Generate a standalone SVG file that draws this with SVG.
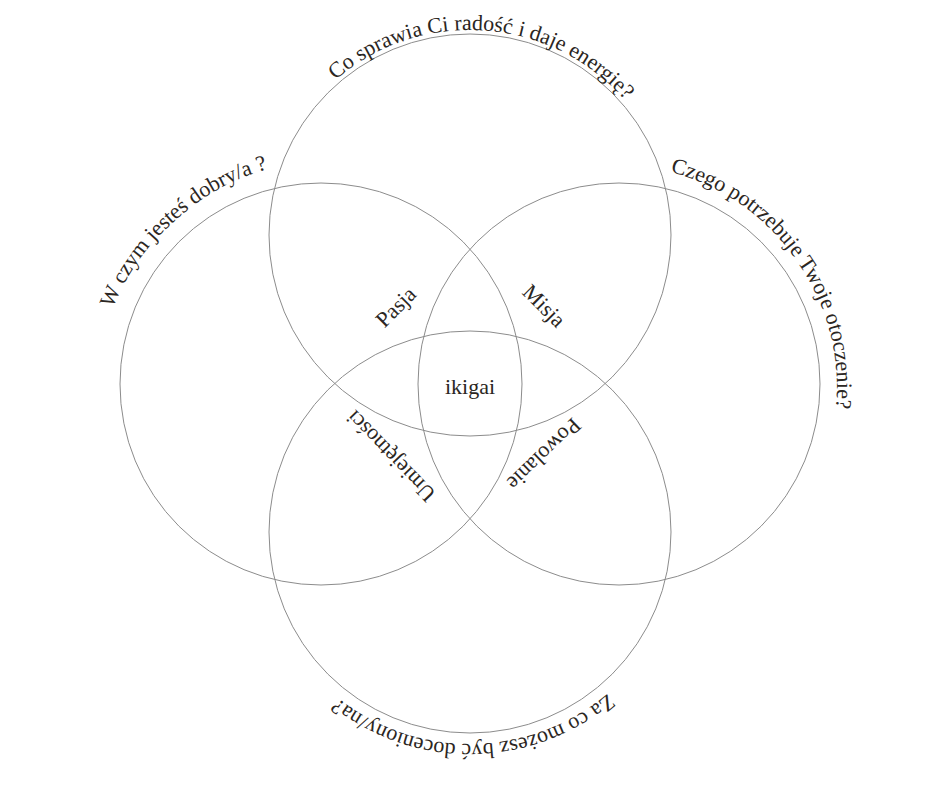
<svg xmlns="http://www.w3.org/2000/svg" xmlns:xlink="http://www.w3.org/1999/xlink" width="940" height="788" viewBox="0 0 940 788">
  <style>
    .ring { fill: none; stroke: #8c8c8c; stroke-width: 1; }
    .t { font-family: "Liberation Serif", "Times New Roman", serif; font-size: 22px; fill: #2b2622; }
  </style>
  <defs>
    <path id="pTop" d="M 455.7 439.5 A 205 205 0 1 1 484.3 30.5 A 205 205 0 1 1 455.7 439.5"/>
    <path id="pLeft" d="M 467.5 546.7 A 219 219 0 1 1 174.5 221.3 A 219 219 0 1 1 467.5 546.7"/>
    <path id="pRight" d="M 442.1 507.9 A 216 216 0 1 1 795.9 260.1 A 216 216 0 1 1 442.1 507.9"/>
    <path id="pBottom" d="M 466.3 320 A 212 212 0 1 1 473.7 744 A 212 212 0 1 1 466.3 320"/>
  </defs>
  <rect width="940" height="788" fill="#ffffff"/>
  <g id="circle-top">
    <circle class="ring" cx="470" cy="235" r="201"/>
    <text class="t"><textPath xlink:href="#pTop" href="#pTop" startOffset="50%" text-anchor="middle">Co sprawia Ci radość i daje energię?</textPath></text>
  </g>
  <g id="circle-left">
    <circle class="ring" cx="321" cy="384" r="201"/>
    <text class="t"><textPath xlink:href="#pLeft" href="#pLeft" startOffset="50%" text-anchor="middle">W czym jesteś dobry/a ?</textPath></text>
  </g>
  <g id="circle-right">
    <circle class="ring" cx="619" cy="384" r="201"/>
    <text class="t"><textPath xlink:href="#pRight" href="#pRight" startOffset="50%" text-anchor="middle">Czego potrzebuje Twoje otoczenie?</textPath></text>
  </g>
  <g id="circle-bottom">
    <circle class="ring" cx="470" cy="532" r="201"/>
    <text class="t"><textPath xlink:href="#pBottom" href="#pBottom" startOffset="50%" text-anchor="middle">Za co możesz być doceniony/na?</textPath></text>
  </g>
  <g id="label-pasja">
    <text class="t" text-anchor="middle" transform="translate(401 312) rotate(-45)">Pasja</text>
  </g>
  <g id="label-misja">
    <text class="t" text-anchor="middle" transform="translate(539 311) rotate(45)">Misja</text>
  </g>
  <g id="label-umiejetnosci">
    <text class="t" text-anchor="middle" transform="translate(396 451) rotate(-134)">Umiejętności</text>
  </g>
  <g id="label-powolanie">
    <text class="t" text-anchor="middle" transform="translate(539 449) rotate(136)">Powolanie</text>
  </g>
  <g id="label-ikigai">
    <text class="t" text-anchor="middle" x="470" y="394">ikigai</text>
  </g>
</svg>
